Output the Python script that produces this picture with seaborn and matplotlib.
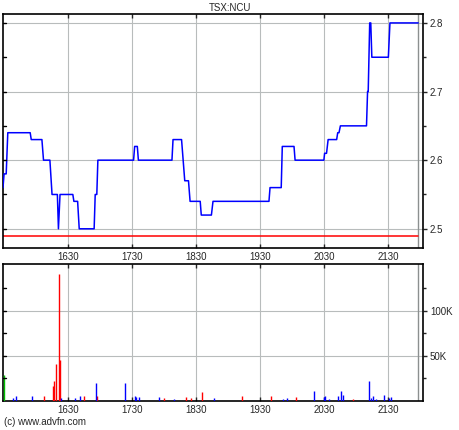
import numpy as np
import pandas as pd
import matplotlib
matplotlib.use("Agg")
import matplotlib.pyplot as plt
import matplotlib.ticker as mticker
import seaborn as sns

# Intraday price (minutes since midnight, price)
price_time = [929, 930, 932, 933.5, 954.5, 955.5, 965.5, 967, 973, 975, 980, 981,
              982.5, 994.5, 995.5, 999, 1000.5, 1014.5, 1015.5, 1017, 1018, 1051.5,
              1052.5, 1055, 1056, 1087.5, 1088.5, 1096.5, 1099.5, 1103, 1104.5, 1114,
              1115, 1124.5, 1126, 1178.5, 1179.5, 1190, 1191, 1202, 1203, 1230,
              1230.7, 1232.5, 1234, 1242, 1243, 1244.2, 1245.5, 1270, 1271, 1271.6,
              1273, 1274, 1275, 1290.5, 1292, 1318.5]
price = [2.56, 2.58, 2.58, 2.64, 2.64, 2.63, 2.63, 2.60, 2.60, 2.55, 2.55, 2.50,
         2.55, 2.55, 2.54, 2.54, 2.50, 2.50, 2.55, 2.55, 2.60, 2.60,
         2.62, 2.62, 2.60, 2.60, 2.63, 2.63, 2.57, 2.57, 2.54, 2.54,
         2.52, 2.52, 2.54, 2.54, 2.56, 2.56, 2.62, 2.62, 2.60, 2.60,
         2.61, 2.61, 2.63, 2.63, 2.64, 2.64, 2.65, 2.65, 2.70, 2.70,
         2.80, 2.80, 2.75, 2.75, 2.80, 2.80]
prev_close = 2.49

# Trades: time, volume, direction
vol_time = [930, 938.6, 941.4, 956.6, 967.9, 975.5, 976.8, 978.3, 981.2, 982.1,
            983.1, 996.3, 1001, 1004.8, 1016.5, 1017.1, 1043.6, 1053.1, 1054,
            1056.9, 1074.9, 1080.5, 1089, 1100.4, 1105.1, 1115.6, 1126.9,
            1153.3, 1180.7, 1192, 1195.5, 1204, 1220.9, 1229.7, 1231.3, 1235.1,
            1243.6, 1246.4, 1248.3, 1257.7, 1271.9, 1274.1, 1275.7, 1278.5,
            1286.4, 1291.1, 1292.6]
vol = [28900, 3000, 5500, 5500, 5500, 16700, 22000, 41000, 141000, 45500,
       3000, 3000, 5500, 5500, 20000, 5500, 20000, 5500, 4000,
       4500, 4500, 3300, 2000, 4500, 3300, 10000, 3300,
       6000, 6000, 2000, 3700, 4500, 11000, 4800, 5000, 2000,
       6000, 11000, 6700, 1800, 22000, 3700, 5500, 1800,
       6700, 3300, 4500]
vol_dir = ["open", "up", "up", "up", "down", "down", "down", "down", "down", "down",
           "up", "up", "up", "down", "up", "down", "up", "up", "up",
           "up", "up", "down", "up", "down", "down", "down", "up",
           "down", "down", "up", "up", "down", "up", "up", "up", "up",
           "up", "up", "up", "down", "up", "up", "up", "up",
           "up", "up", "up"]

tick_times = [990, 1050, 1110, 1170, 1230, 1290]
tick_labels = ["1630", "1730", "1830", "1930", "2030", "2130"]

sns.set_style("white")
plt.rcParams["font.family"] = ["Liberation Sans", "DejaVu Sans"]
plt.rcParams["font.size"] = 7

W, H = 460, 430
fig = plt.figure(figsize=(W / 100, H / 100), dpi=100)
ax1 = fig.add_axes([3 / W, 1 - 248 / H, 420 / W, 234 / H])
ax2 = fig.add_axes([3 / W, 1 - 401 / H, 420 / W, 137 / H])

grid_c = "#b8bcbc"
end_c = "#8c9090"
colors = {"open": "#00c000", "up": "#0000ff", "down": "#ff0000"}

df = pd.DataFrame({"t": price_time, "p": price})
sns.lineplot(data=df, x="t", y="p", ax=ax1, color="#0000ff", lw=1.1,
             sort=False, estimator=None, zorder=3)
ax1.plot([price_time[0], price_time[-1]], [prev_close, prev_close],
         color="#ff0000", lw=1.1, zorder=2)

vdf = pd.DataFrame({"t": vol_time, "v": vol, "d": vol_dir})
for d, g in vdf.groupby("d"):
    ax2.vlines(g["t"], 0, g["v"], colors=colors[d], lw=1.0, zorder=3)

for ax in (ax1, ax2):
    ax.set_xlim(929, 1323)
    ax.set_xticks(tick_times)
    ax.set_xticklabels(tick_labels)
    ax.grid(True, color=grid_c, lw=0.8)
    ax.set_axisbelow(True)
    ax.axvline(price_time[-1], color=end_c, lw=1.0, zorder=1)
    ax.set_xlabel("")
    ax.set_ylabel("")
    for s in ax.spines.values():
        s.set_visible(True)
        s.set_color("black")
        s.set_linewidth(1.2)
    ax.yaxis.tick_right()
    ax.tick_params(axis="x", which="both", direction="in", top=True, bottom=True,
                   length=3, width=1, pad=3, labelsize=7)
    ax.tick_params(axis="y", which="major", direction="out", right=True, left=False,
                   length=3, width=1, pad=2, labelsize=7)
    ax.tick_params(axis="y", which="minor", direction="out", right=True, left=False,
                   length=2, width=1)

ax1.set_ylim(2.472, 2.813)
ax1.set_yticks([2.5, 2.6, 2.7, 2.8])
ax1.yaxis.set_minor_locator(mticker.MultipleLocator(0.05))
ax1.yaxis.set_major_formatter(mticker.FormatStrFormatter("%.1f"))

ax2.set_ylim(0, 152000)
ax2.set_yticks([50000, 100000])
ax2.yaxis.set_minor_locator(mticker.FixedLocator([25000, 75000, 125000]))
ax2.yaxis.set_major_formatter(mticker.FuncFormatter(lambda v, p: f"{v / 1000:.0f}K"))

# inward ticks on the left spine
for ax, minor in ((ax1, np.arange(2.5, 2.81, 0.05)), (ax2, [25000, 50000, 75000, 100000, 125000])):
    for v in minor:
        ax.plot([0, 0.006], [v, v], transform=ax.get_yaxis_transform(), color="black",
                lw=1, clip_on=False, zorder=4)

fig.text(0.5, 1 - 8 / H, "TSX:NCU", ha="center", va="center", fontsize=7)
fig.text(4 / W, 1 - 422 / H, "(c) www.advfn.com", ha="left", va="center", fontsize=7)

fig.savefig("out.png", dpi=100)
